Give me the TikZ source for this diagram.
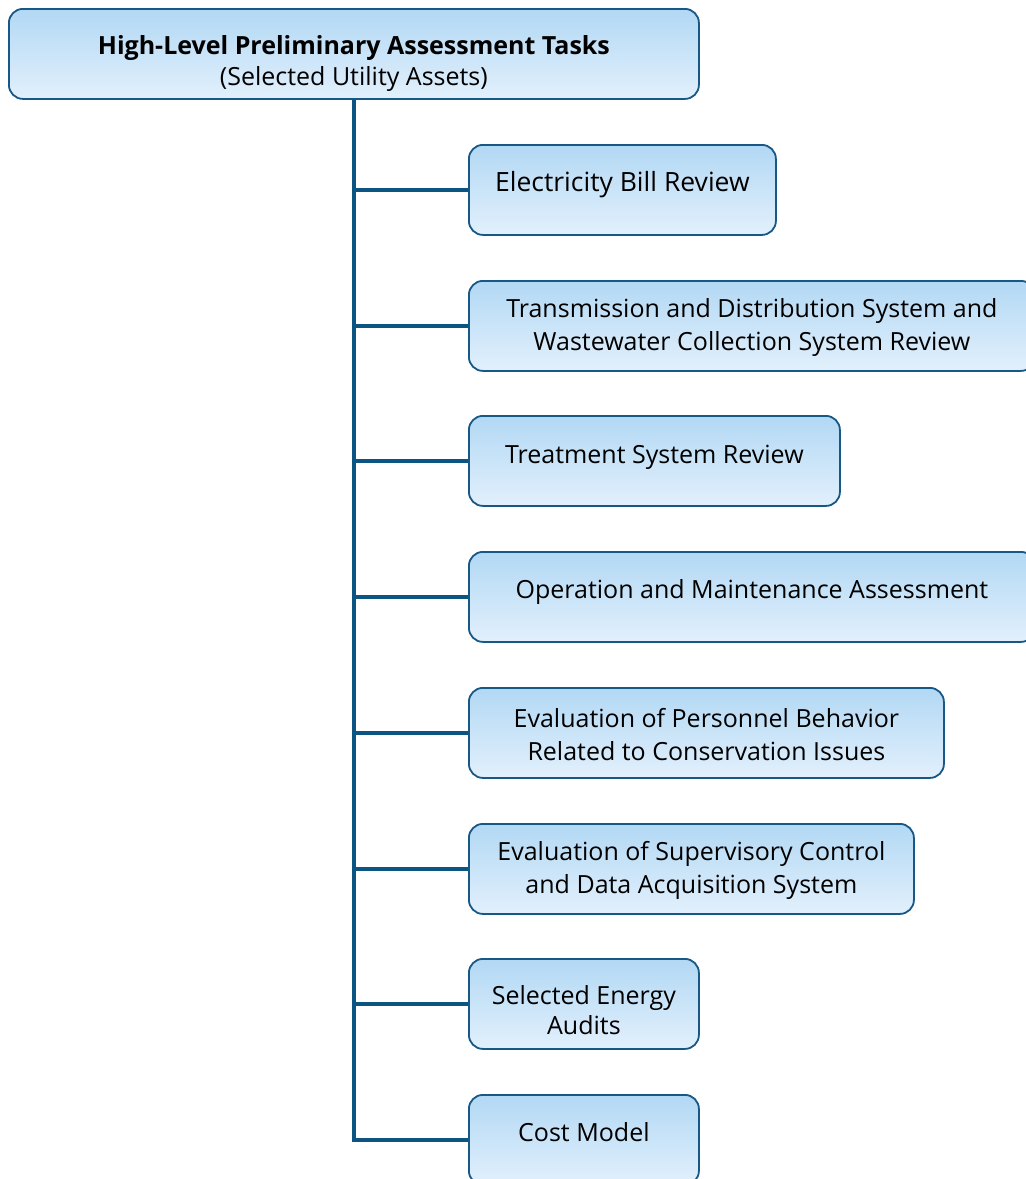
\documentclass[tikz,border=0pt]{standalone}
\usepackage{fontspec}
\setmainfont{Open Sans}
\begin{document}
\begin{tikzpicture}[x=1pt,y=-1pt]
\definecolor{boxtop}{RGB}{178,216,244}
\definecolor{boxbot}{RGB}{226,240,252}
\definecolor{boxline}{RGB}{24,88,134}
\definecolor{trunkcol}{RGB}{12,84,130}
\tikzset{
  taskbox/.style={draw=boxline, line width=1.8pt, rounded corners=14pt,
    top color=boxtop, bottom color=boxbot, minimum height=90pt,
    inner sep=0pt, anchor=north west},
  tasktext/.style={font=\fontsize{25}{33}\selectfont, align=center, text=black},
  trunk/.style={draw=trunkcol, line width=4pt}
}
\useasboundingbox (0,0) rectangle (1026,1179);

% header box
\node[taskbox, minimum width=690pt] (top) at (8,8) {};
\node[tasktext, font=\fontsize{25}{31}\selectfont] (toptext) at ([yshift=-9.5pt]top.center) {\textbf{High-Level Preliminary Assessment Tasks}\\(Selected Utility Assets)};

% task boxes
\node[taskbox, minimum width=307pt] (b1) at (468,144) {};
\node[taskbox, minimum width=566pt] (b2) at (468,280) {};
\node[taskbox, minimum width=371pt] (b3) at (468,415) {};
\node[taskbox, minimum width=566pt] (b4) at (468,551) {};
\node[taskbox, minimum width=475pt] (b5) at (468,687) {};
\node[taskbox, minimum width=445pt] (b6) at (468,823) {};
\node[taskbox, minimum width=230pt] (b7) at (468,958) {};
\node[taskbox, minimum width=230pt] (b8) at (468,1094) {};

\node[tasktext, font=\fontsize{26.5}{33}\selectfont] (t1) at ([yshift=5pt]b1.center) {Electricity Bill Review};
\node[tasktext] (t2) at ([yshift=-1.5pt]b2.center) {Transmission and Distribution System and\\Wastewater Collection System Review};
\node[tasktext] (t3) at ([yshift=4pt]b3.center) {Treatment System Review};
\node[tasktext] (t4) at ([yshift=5pt]b4.center) {Operation and Maintenance Assessment};
\node[tasktext] (t5) at ([yshift=-1.5pt]b5.center) {Evaluation of Personnel Behavior\\Related to Conservation Issues};
\node[tasktext] (t6) at ([yshift=-1.5pt]b6.center) {Evaluation of Supervisory Control\\and Data Acquisition System};
\node[tasktext, font=\fontsize{25}{30}\selectfont] (t7) at ([yshift=-6pt]b7.center) {Selected Energy\\Audits};
\node[tasktext] (t8) at ([yshift=8pt]b8.center) {Cost Model};

% connectors
\draw[trunk] (top.south) |- (b8.west);
\foreach \b in {b1,b2,b3,b4,b5,b6,b7}
  \draw[trunk] (top.south |- \b.west) -- (\b.west);
\end{tikzpicture}
\end{document}
